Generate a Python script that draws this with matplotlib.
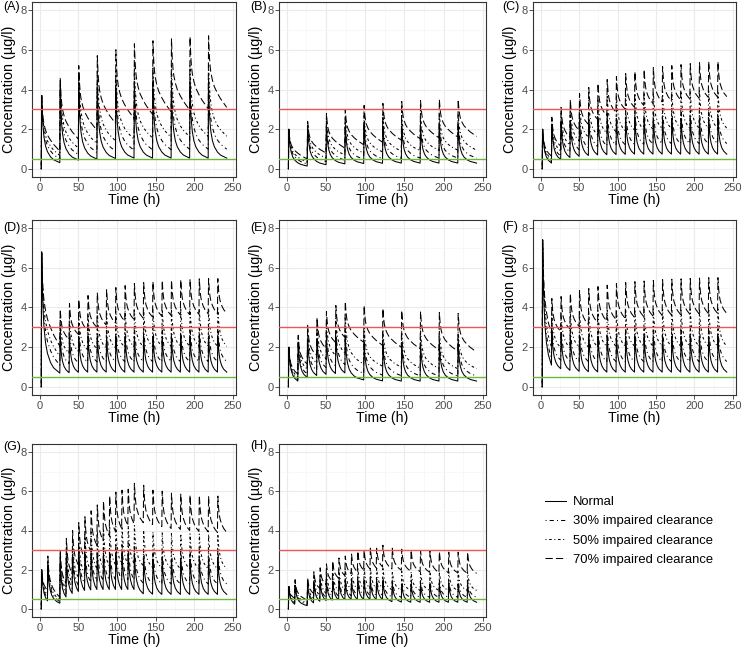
import matplotlib
matplotlib.use('Agg')
import matplotlib.pyplot as plt
from matplotlib import font_manager
from matplotlib.lines import Line2D

installed = {f.name for f in font_manager.fontManager.ttflist}
NARROW = 'Liberation Sans Narrow' if 'Liberation Sans Narrow' in installed else 'Liberation Sans'
plt.rcParams['font.family'] = [NARROW, 'DejaVu Sans']

SERIES = ['Normal', '30% impaired clearance', '50% impaired clearance', '70% impaired clearance']
LINESTYLES = ['-', (0, (1, 3, 4, 3)), (0, (1, 2.5, 2.5, 2.5)), (0, (7, 3))]

# shape of one decay after a dose: hours after dose, fraction of peak left
DECAY_HOURS = [0.5, 1.5, 2.5, 3.5, 5.5, 8, 12, 16, 24]
DECAY_SHAPE = [
    [1, 0.70, 0.54, 0.43, 0.31, 0.23, 0.16, 0.12, 0.08],
    [1, 0.74, 0.60, 0.50, 0.40, 0.32, 0.25, 0.20, 0.14],
    [1, 0.78, 0.66, 0.58, 0.48, 0.41, 0.34, 0.29, 0.22],
    [1, 0.82, 0.72, 0.66, 0.59, 0.53, 0.47, 0.42, 0.34],
]
T_END = 242
MEC = 0.5   # green line
MTC = 3.0   # red line

# ---- (A) ----
a_doses = [2, 26, 50, 74, 98, 122, 146, 170, 194, 218]
a_peak = [
    [3.7, 3.95, 4.0, 4.05, 4.05, 4.05, 4.05, 4.05, 4.05, 4.05],
    [3.7, 4.15, 4.35, 4.45, 4.5, 4.55, 4.55, 4.6, 4.6, 4.6],
    [3.7, 4.35, 4.7, 4.9, 5.0, 5.1, 5.15, 5.2, 5.2, 5.2],
    [3.7, 4.6, 5.2, 5.7, 6.0, 6.3, 6.45, 6.55, 6.65, 6.7],
]
a_trough = [
    [0.32, 0.45, 0.5, 0.53, 0.55, 0.55, 0.55, 0.55, 0.55, 0.55],
    [0.5, 0.72, 0.83, 0.9, 0.95, 0.97, 0.98, 1.0, 1.0, 1.0],
    [0.68, 1.05, 1.28, 1.42, 1.5, 1.56, 1.6, 1.62, 1.64, 1.65],
    [0.9, 1.5, 1.95, 2.3, 2.55, 2.75, 2.88, 2.97, 3.03, 3.1],
]

# ---- (B) ----
b_doses = [2, 26, 50, 74, 98, 122, 146, 170, 194, 218]
b_peak = [
    [2.0, 2.1, 2.12, 2.14, 2.15, 2.15, 2.15, 2.15, 2.15, 2.15],
    [2.0, 2.2, 2.3, 2.35, 2.38, 2.4, 2.4, 2.4, 2.4, 2.4],
    [2.0, 2.35, 2.55, 2.65, 2.72, 2.76, 2.78, 2.8, 2.8, 2.8],
    [2.0, 2.4, 2.8, 3.0, 3.2, 3.3, 3.4, 3.45, 3.5, 3.5],
]
b_trough = [
    [0.15, 0.22, 0.26, 0.28, 0.29, 0.3, 0.3, 0.3, 0.3, 0.3],
    [0.25, 0.37, 0.44, 0.49, 0.52, 0.54, 0.55, 0.55, 0.55, 0.55],
    [0.35, 0.55, 0.7, 0.8, 0.86, 0.9, 0.92, 0.94, 0.95, 0.95],
    [0.5, 0.8, 1.05, 1.22, 1.35, 1.45, 1.52, 1.57, 1.61, 1.64],
]

# ---- (C) ----
c_doses = [2, 14, 26, 38, 50, 62, 74, 86, 98, 110, 122, 134, 146, 158, 170, 182, 194, 206, 218, 230]
c_peak = [
    [2.0, 2.2, 2.35, 2.42, 2.47, 2.5, 2.52, 2.53, 2.54, 2.55, 2.55, 2.55, 2.55, 2.55, 2.55, 2.55, 2.55, 2.55, 2.55, 2.55],
    [2.0, 2.3, 2.55, 2.7, 2.82, 2.9, 2.95, 2.98, 3.0, 3.02, 3.03, 3.04, 3.05, 3.05, 3.05, 3.05, 3.05, 3.05, 3.05, 3.05],
    [2.0, 2.45, 2.8, 3.1, 3.3, 3.45, 3.55, 3.65, 3.72, 3.78, 3.82, 3.85, 3.88, 3.9, 3.9, 3.92, 3.92, 3.93, 3.93, 3.93],
    [2.0, 2.6, 3.1, 3.5, 3.8, 4.1, 4.3, 4.5, 4.65, 4.8, 4.9, 5.0, 5.1, 5.15, 5.2, 5.25, 5.3, 5.35, 5.4, 5.4],
]
c_trough = [
    [0.3, 0.48, 0.58, 0.64, 0.68, 0.71, 0.72, 0.73, 0.74, 0.75, 0.75, 0.75, 0.75, 0.75, 0.75, 0.75, 0.75, 0.75, 0.75, 0.75],
    [0.38, 0.65, 0.85, 0.98, 1.07, 1.13, 1.17, 1.2, 1.22, 1.24, 1.25, 1.26, 1.27, 1.27, 1.28, 1.28, 1.28, 1.28, 1.28, 1.28],
    [0.5, 0.9, 1.2, 1.42, 1.6, 1.72, 1.8, 1.87, 1.92, 1.96, 1.98, 2.0, 2.02, 2.03, 2.04, 2.05, 2.05, 2.05, 2.05, 2.05],
    [0.65, 1.15, 1.6, 1.95, 2.25, 2.5, 2.7, 2.85, 3.0, 3.1, 3.2, 3.3, 3.38, 3.43, 3.48, 3.52, 3.56, 3.6, 3.62, 3.64],
]

# ---- (D) ----
d_doses = [2, 26, 38, 50, 62, 74, 86, 98, 110, 122, 134, 146, 158, 170, 182, 194, 206, 218, 230]
d_peak = [
    [6.8, 2.5, 2.52, 2.54, 2.55, 2.55, 2.55, 2.55, 2.55, 2.55, 2.55, 2.55, 2.55, 2.55, 2.55, 2.55, 2.55, 2.55, 2.55],
    [6.8, 2.95, 3.0, 3.02, 3.04, 3.05, 3.05, 3.05, 3.05, 3.05, 3.05, 3.05, 3.05, 3.05, 3.05, 3.05, 3.05, 3.05, 3.05],
    [6.8, 3.35, 3.5, 3.6, 3.68, 3.74, 3.78, 3.82, 3.85, 3.87, 3.89, 3.9, 3.91, 3.92, 3.92, 3.93, 3.93, 3.93, 3.93],
    [6.8, 3.9, 4.2, 4.4, 4.6, 4.75, 4.9, 5.0, 5.1, 5.2, 5.25, 5.3, 5.35, 5.38, 5.4, 5.42, 5.44, 5.45, 5.45],
]
d_trough = [
    [0.7, 0.72, 0.74, 0.75, 0.75, 0.75, 0.75, 0.75, 0.75, 0.75, 0.75, 0.75, 0.75, 0.75, 0.75, 0.75, 0.75, 0.75, 0.75],
    [1.1, 1.18, 1.22, 1.25, 1.27, 1.28, 1.28, 1.28, 1.28, 1.28, 1.28, 1.28, 1.28, 1.28, 1.28, 1.28, 1.28, 1.28, 1.28],
    [1.55, 1.7, 1.8, 1.87, 1.92, 1.96, 1.98, 2.0, 2.02, 2.03, 2.04, 2.05, 2.05, 2.05, 2.05, 2.05, 2.05, 2.05, 2.05],
    [2.05, 2.4, 2.65, 2.85, 3.0, 3.12, 3.22, 3.32, 3.4, 3.46, 3.52, 3.56, 3.6, 3.62, 3.64, 3.66, 3.68, 3.7, 3.7],
]

# ---- (E) ----
e_doses = [2, 14, 26, 38, 50, 62, 74, 98, 122, 146, 170, 194, 218]
e_peak = [
    [2.0, 2.2, 2.35, 2.42, 2.47, 2.5, 2.52, 2.2, 2.15, 2.15, 2.15, 2.15, 2.15],
    [2.0, 2.3, 2.55, 2.7, 2.82, 2.9, 2.95, 2.55, 2.45, 2.42, 2.4, 2.4, 2.4],
    [2.0, 2.45, 2.8, 3.1, 3.3, 3.45, 3.55, 3.0, 2.9, 2.85, 2.82, 2.8, 2.8],
    [2.0, 2.6, 3.1, 3.5, 3.8, 4.1, 4.3, 4.1, 3.95, 3.85, 3.8, 3.75, 3.7],
]
e_trough = [
    [0.3, 0.48, 0.58, 0.64, 0.68, 0.71, 0.36, 0.31, 0.3, 0.3, 0.3, 0.3, 0.3],
    [0.38, 0.65, 0.85, 0.98, 1.07, 1.13, 0.68, 0.6, 0.57, 0.56, 0.55, 0.55, 0.55],
    [0.5, 0.9, 1.2, 1.42, 1.6, 1.72, 1.15, 1.05, 1.0, 0.96, 0.94, 0.92, 0.92],
    [0.65, 1.15, 1.6, 1.95, 2.25, 2.5, 2.25, 2.1, 2.0, 1.92, 1.86, 1.8, 1.76],
]

# ---- (F) ----
f_doses = [2, 14, 26, 38, 50, 62, 74, 86, 98, 110, 122, 134, 146, 158, 170, 182, 194, 206, 218, 230]
f_peak = [
    [7.4, 2.85, 2.68, 2.6, 2.57, 2.55, 2.55, 2.55, 2.55, 2.55, 2.55, 2.55, 2.55, 2.55, 2.55, 2.55, 2.55, 2.55, 2.55, 2.55],
    [7.4, 3.2, 3.12, 3.08, 3.06, 3.05, 3.05, 3.05, 3.05, 3.05, 3.05, 3.05, 3.05, 3.05, 3.05, 3.05, 3.05, 3.05, 3.05, 3.05],
    [7.4, 3.75, 3.75, 3.78, 3.8, 3.82, 3.84, 3.86, 3.88, 3.9, 3.9, 3.91, 3.92, 3.92, 3.93, 3.93, 3.93, 3.93, 3.93, 3.93],
    [7.4, 4.45, 4.55, 4.7, 4.85, 4.95, 5.05, 5.12, 5.2, 5.25, 5.3, 5.33, 5.36, 5.4, 5.42, 5.44, 5.46, 5.48, 5.5, 5.5],
]
f_trough = [
    [1.1, 0.92, 0.84, 0.79, 0.77, 0.76, 0.75, 0.75, 0.75, 0.75, 0.75, 0.75, 0.75, 0.75, 0.75, 0.75, 0.75, 0.75, 0.75, 0.75],
    [1.45, 1.35, 1.31, 1.29, 1.28, 1.28, 1.28, 1.28, 1.28, 1.28, 1.28, 1.28, 1.28, 1.28, 1.28, 1.28, 1.28, 1.28, 1.28, 1.28],
    [2.0, 1.98, 1.98, 2.0, 2.01, 2.02, 2.03, 2.04, 2.05, 2.05, 2.05, 2.05, 2.05, 2.05, 2.05, 2.05, 2.05, 2.05, 2.05, 2.05],
    [2.7, 2.8, 2.92, 3.05, 3.15, 3.25, 3.32, 3.4, 3.45, 3.5, 3.54, 3.57, 3.6, 3.62, 3.64, 3.66, 3.68, 3.7, 3.7, 3.7],
]

# ---- (G) ----
g_doses = [2, 10, 26, 34, 42, 50, 58, 66, 74, 82, 90, 98, 106, 114, 122,
           134, 146, 158, 170, 182, 194, 206, 218, 230]
g_peak = [
    [2.0, 2.2, 2.3, 2.6, 2.72, 2.78, 2.82, 2.84, 2.85, 2.85, 2.85, 2.85, 2.85, 2.85, 2.85,
     2.6, 2.55, 2.55, 2.55, 2.55, 2.55, 2.55, 2.55, 2.55],
    [2.0, 2.35, 2.5, 2.85, 3.05, 3.15, 3.22, 3.27, 3.3, 3.32, 3.33, 3.34, 3.35, 3.35, 3.35,
     3.1, 3.05, 3.05, 3.05, 3.05, 3.05, 3.05, 3.05, 3.05],
    [2.0, 2.5, 2.7, 3.15, 3.45, 3.65, 3.8, 3.92, 4.02, 4.1, 4.15, 4.2, 4.22, 4.24, 4.25,
     4.0, 3.92, 3.88, 3.85, 3.84, 3.83, 3.82, 3.82, 3.82],
    [2.0, 2.7, 3.0, 3.6, 4.0, 4.4, 4.7, 5.0, 5.3, 5.5, 5.75, 5.95, 6.05, 6.1, 6.4,
     6.3, 6.05, 6.0, 5.9, 5.85, 5.8, 5.78, 5.75, 5.75],
]
g_trough = [
    [0.42, 0.3, 0.62, 0.8, 0.9, 0.95, 0.98, 1.0, 1.0, 1.0, 1.0, 1.0, 1.0, 1.0, 0.78,
     0.76, 0.75, 0.75, 0.75, 0.75, 0.75, 0.75, 0.75, 0.75],
    [0.55, 0.38, 0.8, 1.05, 1.2, 1.3, 1.37, 1.42, 1.45, 1.47, 1.49, 1.5, 1.5, 1.5, 1.32,
     1.29, 1.28, 1.28, 1.28, 1.28, 1.28, 1.28, 1.28, 1.28],
    [0.72, 0.45, 1.0, 1.35, 1.6, 1.8, 1.95, 2.05, 2.13, 2.2, 2.25, 2.28, 2.3, 2.32, 2.2,
     2.12, 2.08, 2.06, 2.05, 2.05, 2.05, 2.05, 2.05, 2.05],
    [0.95, 0.6, 1.3, 1.8, 2.25, 2.6, 2.95, 3.25, 3.5, 3.75, 3.95, 4.1, 4.25, 4.35, 4.4,
     4.3, 4.2, 4.1, 4.05, 4.0, 3.95, 3.93, 3.9, 3.9],
]

# ---- (H) ----
h_doses = [2, 10, 26, 34, 42, 50, 58, 66, 74, 82, 90, 98, 106, 114, 122,
           134, 146, 158, 170, 182, 194, 206, 218, 230]
h_peak = [
    [1.15, 1.22, 1.25, 1.35, 1.4, 1.42, 1.43, 1.44, 1.45, 1.45, 1.45, 1.45, 1.45, 1.45, 1.45,
     1.3, 1.28, 1.28, 1.28, 1.28, 1.28, 1.28, 1.28, 1.28],
    [1.15, 1.28, 1.32, 1.45, 1.52, 1.57, 1.6, 1.62, 1.63, 1.64, 1.65, 1.65, 1.65, 1.65, 1.65,
     1.5, 1.48, 1.48, 1.48, 1.48, 1.48, 1.48, 1.48, 1.48],
    [1.15, 1.38, 1.45, 1.65, 1.8, 1.9, 1.98, 2.03, 2.07, 2.1, 2.12, 2.14, 2.15, 2.15, 2.15,
     1.95, 1.92, 1.9, 1.9, 1.9, 1.9, 1.9, 1.9, 1.9],
    [1.15, 1.5, 1.6, 1.9, 2.1, 2.3, 2.45, 2.6, 2.7, 2.8, 2.95, 3.0, 3.1, 3.1, 3.25,
     3.1, 3.05, 3.0, 2.97, 2.95, 2.92, 2.9, 2.9, 2.9],
]
h_trough = [
    [0.25, 0.18, 0.32, 0.4, 0.44, 0.46, 0.48, 0.49, 0.5, 0.5, 0.5, 0.5, 0.5, 0.5, 0.38,
     0.36, 0.35, 0.35, 0.35, 0.35, 0.35, 0.35, 0.35, 0.35],
    [0.32, 0.24, 0.42, 0.52, 0.58, 0.62, 0.65, 0.67, 0.68, 0.69, 0.7, 0.7, 0.7, 0.7, 0.62,
     0.6, 0.6, 0.6, 0.6, 0.6, 0.6, 0.6, 0.6, 0.6],
    [0.42, 0.3, 0.55, 0.7, 0.8, 0.87, 0.92, 0.96, 1.0, 1.02, 1.04, 1.05, 1.06, 1.07, 0.98,
     0.96, 0.95, 0.95, 0.95, 0.95, 0.95, 0.95, 0.95, 0.95],
    [0.55, 0.45, 0.8, 1.05, 1.25, 1.42, 1.57, 1.7, 1.8, 1.9, 1.98, 2.05, 2.1, 2.15, 2.05,
     1.98, 1.93, 1.9, 1.88, 1.86, 1.85, 1.84, 1.83, 1.82],
]

# panel frames in pixels: left, right, top, bottom
COL_X = [(32, 236), (279, 486), (533, 736)]
ROW_Y = [(2, 177), (220, 395), (444, 617)]
PANELS = [
    ('(A)', a_doses, a_peak, a_trough, 0, 0, (3, 7)),
    ('(B)', b_doses, b_peak, b_trough, 0, 1, (250, 7)),
    ('(C)', c_doses, c_peak, c_trough, 0, 2, (502, 7)),
    ('(D)', d_doses, d_peak, d_trough, 1, 0, (3, 228)),
    ('(E)', e_doses, e_peak, e_trough, 1, 1, (250, 228)),
    ('(F)', f_doses, f_peak, f_trough, 1, 2, (502, 227)),
    ('(G)', g_doses, g_peak, g_trough, 2, 0, (3, 447)),
    ('(H)', h_doses, h_peak, h_trough, 2, 1, (250, 446)),
]
W, H = 745, 650


def dose_curve(doses, peaks, troughs, shape):
    t, c = [doses[0]], [0.0]
    for k, d in enumerate(doses):
        nxt = doses[k + 1] if k + 1 < len(doses) else T_END
        interval = nxt - d
        f_end = shape[DECAY_HOURS.index(interval)]
        for hr, f in zip(DECAY_HOURS, shape):
            if hr > interval:
                break
            t.append(d + hr)
            c.append(troughs[k] + (peaks[k] - troughs[k]) * (f - f_end) / (1 - f_end))
    return t, c


fig = plt.figure(figsize=(W / 100, H / 100), dpi=100)

for label, doses, peak, trough, row, col, lab_xy in PANELS:
    x0, x1 = COL_X[col]
    y0, y1 = ROW_Y[row]
    ax = fig.add_axes([x0 / W, 1 - y1 / H, (x1 - x0) / W, (y1 - y0) / H])

    for i in range(4):
        t, c = dose_curve(doses, peak[i], trough[i], DECAY_SHAPE[i])
        ax.plot(t, c, color='black', lw=0.75, linestyle=LINESTYLES[i], zorder=2)

    ax.axhline(MTC, color='#EE5555', lw=1.0, zorder=3)
    ax.axhline(MEC, color='#6DB83C', lw=1.0, zorder=3)

    ax.set_xlim(-10, 254)
    ax.set_ylim(-0.4, 8.4)
    ax.set_xticks([0, 50, 100, 150, 200, 250])
    ax.set_yticks([0, 2, 4, 6, 8])
    ax.set_xticks([25, 75, 125, 175, 225], minor=True)
    ax.set_yticks([1, 3, 5, 7], minor=True)
    ax.grid(which='major', color='#EBEBEB', lw=0.8)
    ax.grid(which='minor', color='#F5F5F5', lw=0.5)
    ax.set_axisbelow(True)
    ax.tick_params(which='minor', length=0)
    ax.tick_params(which='major', length=3, width=0.6, color='#333333',
                   labelsize=8, labelcolor='#4D4D4D', pad=1)
    for sp in ax.spines.values():
        sp.set_color('#333333')
        sp.set_linewidth(0.8)

    ax.set_xlabel('Time (h)', fontsize=10.2, labelpad=0)
    ax.set_ylabel('Concentration (µg/l)', fontsize=10.4, labelpad=3,
                  family=['Liberation Sans', 'DejaVu Sans'])

    fig.text(lab_xy[0] / W, 1 - lab_xy[1] / H, label, fontsize=9,
             ha='left', va='center')

handles = [Line2D([], [], color='black', lw=0.75, linestyle=ls) for ls in LINESTYLES]
fig.legend(handles, SERIES, loc='center left', bbox_to_anchor=(545 / W, 1 - 531 / H),
           frameon=False, fontsize=9.4, handlelength=1.6, handletextpad=0.55,
           labelspacing=0.55, borderpad=0, borderaxespad=0)

fig.savefig('out.png', dpi=100)
